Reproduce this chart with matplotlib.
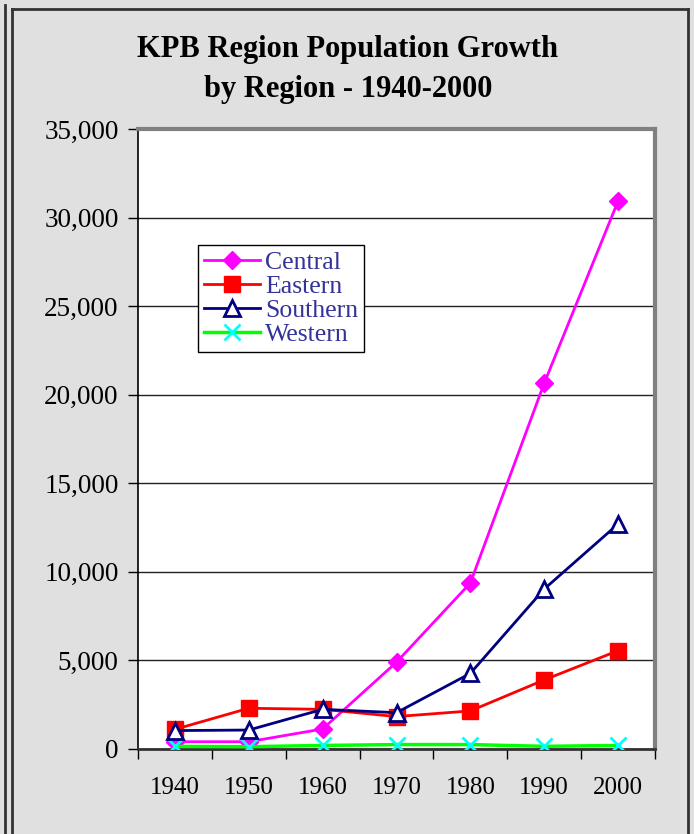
import numpy as np
import matplotlib.pyplot as plt
from matplotlib.lines import Line2D
from matplotlib.ticker import FuncFormatter

# data
years = ["1940", "1950", "1960", "1970", "1980", "1990", "2000"]
central = [410, 410, 1130, 4900, 9370, 20650, 30930]
eastern = [1110, 2300, 2240, 1830, 2150, 3900, 5550]
southern = [1040, 1070, 2240, 2050, 4270, 9030, 12700]
western = [150, 130, 200, 250, 250, 150, 200]

W, H = 694, 834
plt.rcParams['font.family'] = ['Liberation Serif', 'DejaVu Serif']

fig = plt.figure(figsize=(W / 100, H / 100), dpi=100)
fig.patch.set_facecolor('#e0e0e0')

# outer frame lines (pixel coords -> figure fraction)
def px_line(x0, y0, x1, y1, lw=2.0, color='#333333'):
  fig.add_artist(Line2D([x0 / W, x1 / W], [1 - y0 / H, 1 - y1 / H],
                        transform=fig.transFigure, color=color, lw=lw))

px_line(4.5, 5, 4.5, H)
px_line(11.5, 9, 11.5, H)
px_line(11.5, 9, 688, 9)
px_line(688, 9, 688, H)

left, right, top, bottom = 138, 655, 129, 749
ax = fig.add_axes([left / W, 1 - bottom / H, (right - left) / W, (bottom - top) / H])
ax.set_facecolor('white')

x = np.arange(len(years))
ax.plot(x, central, color='#ff00ff', lw=2, marker='D', ms=9,
        mfc='#ff00ff', mec='#ff00ff', label='Central', zorder=3)
ax.plot(x, eastern, color='#ff0000', lw=2, marker='s', ms=11,
        mfc='#ff0000', mec='#ff0000', label='Eastern', zorder=3)
ax.plot(x, southern, color='#000080', lw=2, marker='^', ms=11,
        mfc='white', mec='#000080', mew=2, label='Southern', zorder=4)
ax.plot(x, western, color='#00ff00', lw=2.5, marker='x', ms=11,
        mec='#00ffff', mew=2, label='Western', zorder=3)

ax.set_xlim(-0.5, len(years) - 0.5)
ax.set_ylim(0, 35000)
ax.set_yticks(np.arange(0, 35001, 5000))
ax.yaxis.set_major_formatter(FuncFormatter(lambda v, p: f"{int(v):,}"))
ax.yaxis.grid(True, color='#222222', lw=1)
ax.set_axisbelow(True)

# category ticks at boundaries, labels in between
ax.set_xticks(np.arange(-0.5, len(years), 1.0))
ax.set_xticklabels([])
ax.set_xticks(x, minor=True)
ax.set_xticklabels(years, minor=True)
ax.tick_params(axis='x', which='major', direction='out', length=7, width=1, color='black')
ax.tick_params(axis='x', which='minor', length=0, pad=20, labelsize=18)
ax.tick_params(axis='y', direction='out', length=7, width=1, color='black', pad=7, labelsize=19.5)

for s in ['top', 'right']:
  ax.spines[s].set_color('#808080')
  ax.spines[s].set_linewidth(3)
ax.spines['left'].set_color('black')
ax.spines['left'].set_linewidth(1.2)
ax.spines['bottom'].set_color('#333333')
ax.spines['bottom'].set_linewidth(2)

leg = ax.legend(loc='upper left', bbox_to_anchor=((198 - left) / (right - left), (bottom - 245) / (bottom - top)),
                fontsize=18.5, frameon=True, fancybox=False, edgecolor='black', framealpha=1,
                labelspacing=0.05, borderpad=0.22, handletextpad=0.2, handlelength=2.2,
                borderaxespad=0)
leg.get_frame().set_linewidth(1)
for t in leg.get_texts():
  t.set_color('#333399')

fig.text(348 / W, 1 - 49 / H, "KPB Region Population Growth", ha='center', va='center',
         fontsize=22, fontweight='bold')
fig.text(348 / W, 1 - 89 / H, "by Region - 1940-2000", ha='center', va='center',
         fontsize=22, fontweight='bold')

fig.savefig('out.png', dpi=100, facecolor=fig.get_facecolor())
